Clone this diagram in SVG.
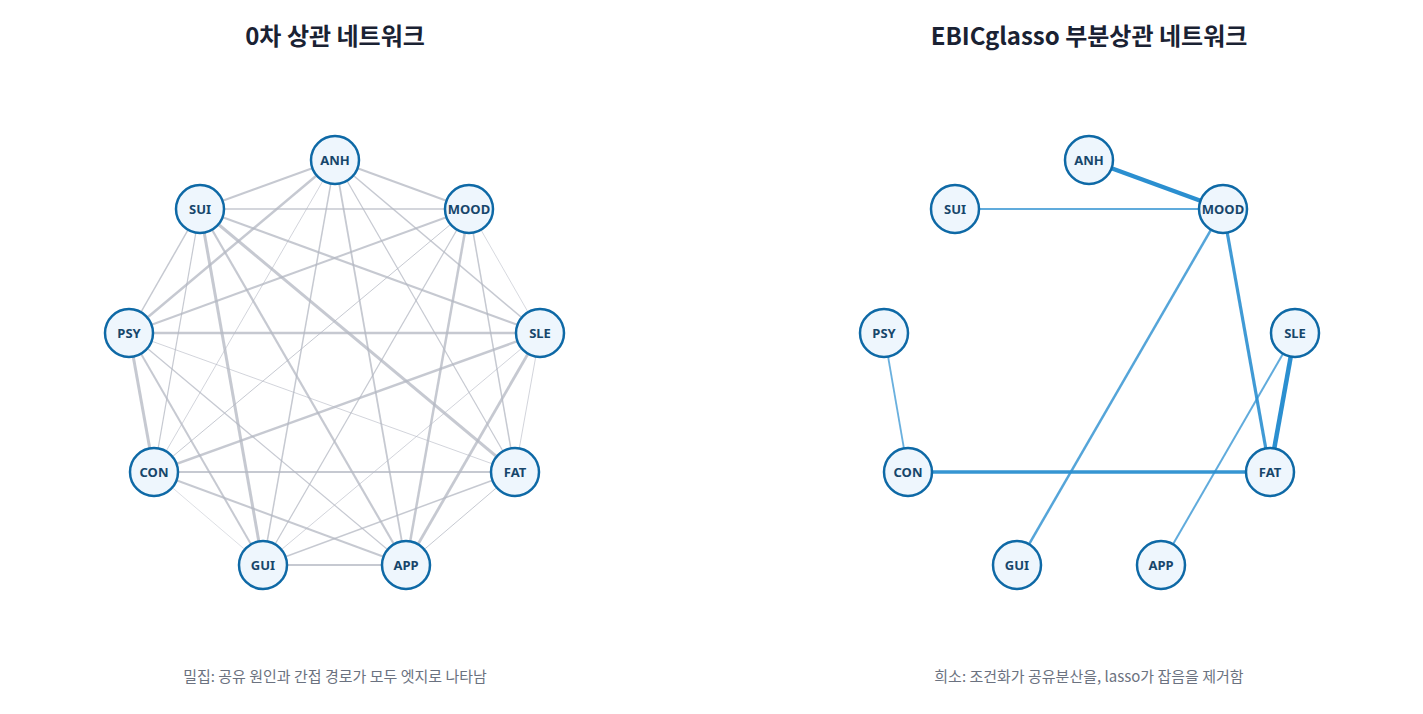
<svg xmlns="http://www.w3.org/2000/svg" width="1423" height="714" viewBox="0 0 1423 714">
<style>
.t{font-family:"Noto Sans CJK KR","Noto Sans",sans-serif;font-weight:700;font-size:24px;fill:#1a2233;text-anchor:middle}
.c{font-family:"Noto Sans CJK KR","Noto Sans",sans-serif;font-size:15px;fill:#6b7280;text-anchor:middle}
.n circle{fill:#eef6fd;stroke:#0e69a6;stroke-width:2.5}
.n text{font-family:"Noto Sans","Noto Sans CJK KR",sans-serif;font-weight:700;font-size:13px;fill:#17466b;text-anchor:middle}
.g line{stroke:#b3b7c2;stroke-opacity:0.75}
.b line{stroke:#2b8fd0}
</style>
<rect width="1423" height="714" fill="#fff"/>
<text class="t" x="335" y="45">0차 상관 네트워크</text>
<text class="t" x="1089" y="45">EBICglasso 부분상관 네트워크</text>
<text class="c" x="335" y="682">밀집: 공유 원인과 간접 경로가 모두 엣지로 나타남</text>
<text class="c" x="1089" y="682">희소: 조건화가 공유분산을, lasso가 잡음을 제거함</text>
<g id="connectors">
<g class="g">
<line x1="335" y1="160" x2="200" y2="209" stroke-width="2"/>
<line x1="335" y1="160" x2="469" y2="209" stroke-width="2"/>
<line x1="335" y1="160" x2="540" y2="333" stroke-width="1.5"/>
<line x1="335" y1="160" x2="515" y2="472" stroke-width="1.2"/>
<line x1="335" y1="160" x2="406" y2="565" stroke-width="1.8"/>
<line x1="335" y1="160" x2="263" y2="565" stroke-width="1.5"/>
<line x1="335" y1="160" x2="154" y2="472" stroke-width="0.8"/>
<line x1="335" y1="160" x2="129" y2="333" stroke-width="2.5"/>
<line x1="200" y1="209" x2="469" y2="209" stroke-width="1.5"/>
<line x1="200" y1="209" x2="540" y2="333" stroke-width="2.2"/>
<line x1="200" y1="209" x2="515" y2="472" stroke-width="3"/>
<line x1="200" y1="209" x2="406" y2="565" stroke-width="2.2"/>
<line x1="200" y1="209" x2="263" y2="565" stroke-width="3"/>
<line x1="200" y1="209" x2="154" y2="472" stroke-width="1.2"/>
<line x1="200" y1="209" x2="129" y2="333" stroke-width="1.5"/>
<line x1="469" y1="209" x2="540" y2="333" stroke-width="0.7"/>
<line x1="469" y1="209" x2="515" y2="472" stroke-width="1.5"/>
<line x1="469" y1="209" x2="406" y2="565" stroke-width="2.5"/>
<line x1="469" y1="209" x2="263" y2="565" stroke-width="1.2"/>
<line x1="469" y1="209" x2="154" y2="472" stroke-width="1"/>
<line x1="469" y1="209" x2="129" y2="333" stroke-width="2"/>
<line x1="540" y1="333" x2="515" y2="472" stroke-width="0.8"/>
<line x1="540" y1="333" x2="406" y2="565" stroke-width="2.8"/>
<line x1="540" y1="333" x2="263" y2="565" stroke-width="0.8"/>
<line x1="540" y1="333" x2="154" y2="472" stroke-width="2.5"/>
<line x1="540" y1="333" x2="129" y2="333" stroke-width="2.5"/>
<line x1="515" y1="472" x2="406" y2="565" stroke-width="1"/>
<line x1="515" y1="472" x2="263" y2="565" stroke-width="1.5"/>
<line x1="515" y1="472" x2="154" y2="472" stroke-width="1.8"/>
<line x1="515" y1="472" x2="129" y2="333" stroke-width="0.8"/>
<line x1="406" y1="565" x2="263" y2="565" stroke-width="2"/>
<line x1="406" y1="565" x2="154" y2="472" stroke-width="2"/>
<line x1="406" y1="565" x2="129" y2="333" stroke-width="1.2"/>
<line x1="263" y1="565" x2="154" y2="472" stroke-width="0.6"/>
<line x1="263" y1="565" x2="129" y2="333" stroke-width="2"/>
<line x1="154" y1="472" x2="129" y2="333" stroke-width="3"/>
</g>
<g class="b">
<line x1="1089" y1="160" x2="1223" y2="209" stroke-width="4.5"/>
<line x1="955" y1="209" x2="1223" y2="209" stroke-width="2.2" stroke-opacity="0.75"/>
<line x1="1223" y1="209" x2="1270" y2="472" stroke-width="3.2" stroke-opacity="0.9"/>
<line x1="1223" y1="209" x2="1017" y2="565" stroke-width="2.5" stroke-opacity="0.8"/>
<line x1="884" y1="333" x2="908" y2="472" stroke-width="1.8" stroke-opacity="0.7"/>
<line x1="908" y1="472" x2="1270" y2="472" stroke-width="3.5" stroke-opacity="0.95"/>
<line x1="1295" y1="333" x2="1270" y2="472" stroke-width="4.5"/>
<line x1="1295" y1="333" x2="1161" y2="565" stroke-width="2" stroke-opacity="0.75"/>
</g>
</g>
<g id="n-ANH" class="n"><circle cx="335" cy="160" r="24"/><text x="335" y="165">ANH</text></g>
<g id="n-SUI" class="n"><circle cx="200" cy="209" r="24"/><text x="200" y="214">SUI</text></g>
<g id="n-MOOD" class="n"><circle cx="469" cy="209" r="24"/><text x="469" y="214">MOOD</text></g>
<g id="n-PSY" class="n"><circle cx="129" cy="333" r="24"/><text x="129" y="338">PSY</text></g>
<g id="n-SLE" class="n"><circle cx="540" cy="333" r="24"/><text x="540" y="338">SLE</text></g>
<g id="n-CON" class="n"><circle cx="154" cy="472" r="24"/><text x="154" y="477">CON</text></g>
<g id="n-FAT" class="n"><circle cx="515" cy="472" r="24"/><text x="515" y="477">FAT</text></g>
<g id="n-GUI" class="n"><circle cx="263" cy="565" r="24"/><text x="263" y="570">GUI</text></g>
<g id="n-APP" class="n"><circle cx="406" cy="565" r="24"/><text x="406" y="570">APP</text></g>
<g id="p-ANH" class="n"><circle cx="1089" cy="160" r="24"/><text x="1089" y="165">ANH</text></g>
<g id="p-SUI" class="n"><circle cx="955" cy="209" r="24"/><text x="955" y="214">SUI</text></g>
<g id="p-MOOD" class="n"><circle cx="1223" cy="209" r="24"/><text x="1223" y="214">MOOD</text></g>
<g id="p-PSY" class="n"><circle cx="884" cy="333" r="24"/><text x="884" y="338">PSY</text></g>
<g id="p-SLE" class="n"><circle cx="1295" cy="333" r="24"/><text x="1295" y="338">SLE</text></g>
<g id="p-CON" class="n"><circle cx="908" cy="472" r="24"/><text x="908" y="477">CON</text></g>
<g id="p-FAT" class="n"><circle cx="1270" cy="472" r="24"/><text x="1270" y="477">FAT</text></g>
<g id="p-GUI" class="n"><circle cx="1017" cy="565" r="24"/><text x="1017" y="570">GUI</text></g>
<g id="p-APP" class="n"><circle cx="1161" cy="565" r="24"/><text x="1161" y="570">APP</text></g>
</svg>
